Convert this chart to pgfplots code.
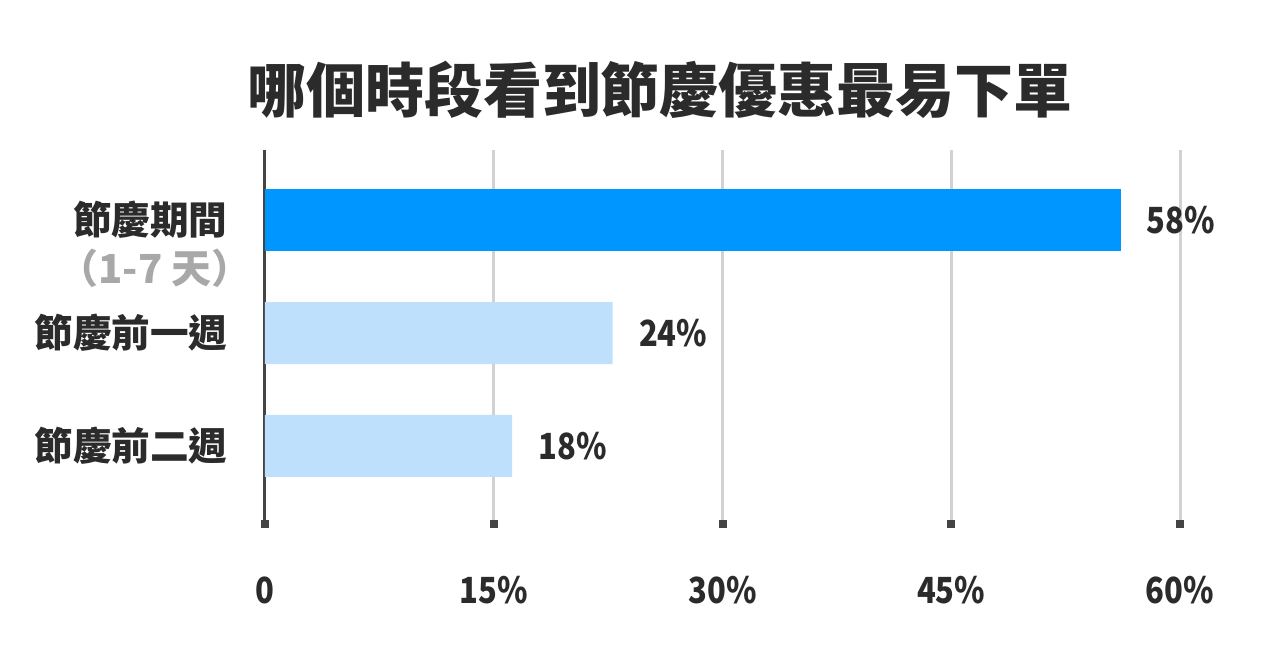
\documentclass[border=0pt]{standalone}
\usepackage{fontspec}
\setmainfont{Noto Sans CJK TC}[BoldFont={Noto Sans CJK TC Bold}]
\newfontfamily\heavy{Noto Sans CJK TC Black}
\newfontfamily\heavynum{Noto Sans CJK TC Black}[FakeStretch=0.86]
\usepackage{pgfplots}
\pgfplotsset{compat=1.18}
\definecolor{txt}{HTML}{2B2B2B}
\definecolor{barA}{HTML}{0096FF}
\definecolor{barB}{HTML}{BFE0FC}
\definecolor{gridc}{HTML}{D2D2D2}
\definecolor{axc}{HTML}{444444}
\definecolor{subc}{HTML}{A8A8A8}
\newcommand{\lblfont}{\heavy\fontsize{19.3}{20}\selectfont}
\newcommand{\numfont}{\heavynum\fontsize{18}{18}\selectfont}

\begin{document}
\begin{tikzpicture}
\useasboundingbox (-132.5pt,-63pt) rectangle (507.5pt,264pt);
\begin{axis}[
    at={(0pt,0pt)}, anchor=south west,
    scale only axis, width=457.5pt, height=189pt,
    xmin=0, xmax=60, ymin=0.274, ymax=3.62,
    xbar, bar width=31pt, bar shift=0pt,
    clip=false,
    axis line style={draw=none},
    xtick={0,15,30,45,60},
    xticklabels={0,15\%,30\%,45\%,60\%},
    ytick={1,2,3},
    yticklabels={節慶前二週,節慶前一週,\raisebox{2.5pt}{節慶期間}},
    xtick pos=bottom, ytick pos=left,
    xmajorgrids, grid style={gridc, line width=1.5pt},
    extra x ticks={0}, extra x tick labels={},
    extra x tick style={grid style={axc, line width=1.5pt}},
    tick align=inside, major tick length=4pt,
    x tick style={axc, line width=4pt},
    y tick style={draw=none},
    ticklabel style={font=\numfont, text=txt},
    yticklabel style={font=\lblfont, anchor=east, inner sep=0pt, xshift=-18.5pt},
    xticklabel style={anchor=center, yshift=-31pt},
    nodes near coords, point meta=explicit symbolic,
    every node near coord/.append style={font=\numfont, text=txt, anchor=west, inner sep=0pt, xshift=13pt},
  ]
  \addplot[fill=barA, draw=none] coordinates {(56.1,3) [58\%]};
  \addplot[fill=barB, draw=none] coordinates {(22.8,2) [24\%] (16.2,1) [18\%]};
  \node[anchor=east, inner sep=0pt, font=\heavy\fontsize{20}{20}\selectfont, text=subc]
    at (axis cs:0,3) [xshift=-6.5pt, yshift=-24pt] {（1-7 天）};
\end{axis}
\node[font=\heavy\fontsize{29.5}{30}\selectfont, text=txt] at (197.5pt,219pt)
  {哪個時段看到節慶優惠最易下單};
\end{tikzpicture}
\end{document}
